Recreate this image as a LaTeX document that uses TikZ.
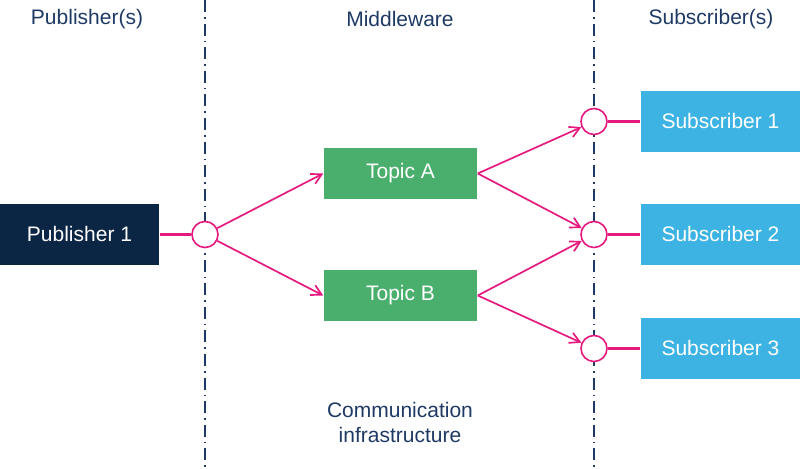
\documentclass[tikz,border=0pt]{standalone}
\usepackage{fontspec}
\setmainfont{Liberation Sans}
\usetikzlibrary{positioning,arrows.meta}
\definecolor{navy}{HTML}{0B2545}
\definecolor{headblue}{HTML}{1E3A64}
\definecolor{topicgreen}{HTML}{4AAF6C}
\definecolor{subblue}{HTML}{3DB3E4}
\definecolor{pink}{HTML}{E6197F}

\begin{document}
\begin{tikzpicture}[x=0.5pt, y=-0.5pt, line width=.8pt,
    box/.style={inner sep=0pt, text=white, font=\fontsize{10.5}{12}\selectfont},
    pubbox/.style={box, fill=navy, minimum width=79.5pt, minimum height=30.5pt},
    topicbox/.style={box, fill=topicgreen, minimum width=76.5pt, minimum height=25.5pt},
    subbox/.style={box, fill=subblue, minimum width=79.5pt, minimum height=30.5pt},
    port/.style={circle, draw=pink, fill=white, line width=.8pt, minimum size=13pt, inner sep=0pt},
    head/.style={text=headblue, font=\fontsize{10.5}{12.5}\selectfont, align=center},
    link/.style={draw=pink, line width=.85pt},
    arr/.style={link, -{Straight Barb[length=5pt, width=5.5pt]}}]
    \useasboundingbox (0,0) rectangle (800,469);

    % Trennlinien.
    \foreach \x in {205,594}
    {
        \draw[color=headblue, line width=.7pt, dash pattern=on 6pt off 2.5pt on .8pt off 2.5pt] (\x,0) -- (\x,469);
    }

    % Beschriftung.
    \node[head] (hpub) at (87,19) {Publisher(s)};
    \node[head] (hmid) at (400,19) {Middleware};
    \node[head] (hsub) at (711,19) {Subscriber(s)};
    \node[head] (infra) at (400,423) {Communication\\infrastructure};

    % Knoten.
    \node[pubbox] (pub) at (79.5,234.5) {Publisher 1};
    \node[port] (p0) at (205,234.5) {};
    \node[topicbox] (ta) at (400.5,173.5) {Topic A};
    \node[topicbox] (tb) at (400.5,295.5) {Topic B};
    \foreach \i/\y in {1/121.5,2/234.5,3/348.5}
    {
        \node[subbox] (s\i) at (720.5,\y) {Subscriber \i};
        \node[port] (p\i) at (594,\y) {};
        \draw[link, line width=1.4pt] (p\i) -- (s\i);
    }

    % Verbindungen.
    \draw[link, line width=1.1pt] (pub) -- (p0);
    \draw[arr] (p0) -- (ta.west);
    \draw[arr] (p0) -- (tb.west);
    \draw[arr] (ta.east) -- (p1);
    \draw[arr] (ta.east) -- (p2);
    \draw[arr] (tb.east) -- (p2);
    \draw[arr] (tb.east) -- (p3);
\end{tikzpicture}
\end{document}
